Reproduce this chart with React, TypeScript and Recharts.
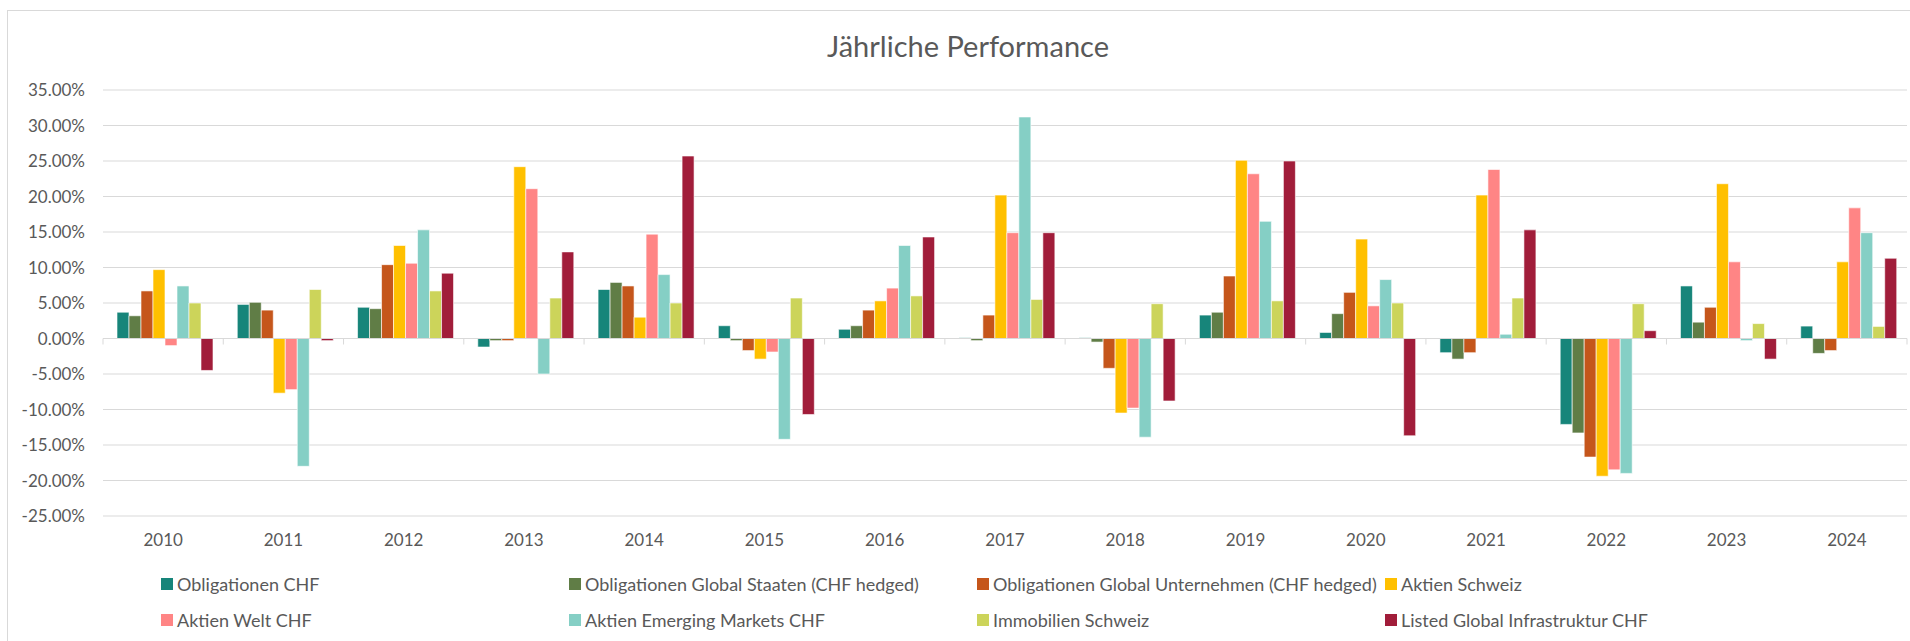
import { BarChart, Bar, XAxis, YAxis, CartesianGrid, ReferenceLine } from "recharts";

const years = ["2010", "2011", "2012", "2013", "2014", "2015", "2016", "2017", "2018", "2019", "2020", "2021", "2022", "2023", "2024"];

const obligationenChf = [3.7, 4.8, 4.4, -1.2, 6.9, 1.8, 1.3, 0.1, 0.1, 3.3, 0.85, -2.0, -12.1, 7.4, 1.75];
const obligationenStaaten = [3.2, 5.1, 4.2, -0.3, 7.9, -0.3, 1.8, -0.3, -0.5, 3.7, 3.5, -2.9, -13.3, 2.3, -2.1];
const obligationenUnternehmen = [6.7, 4.0, 10.4, -0.3, 7.4, -1.7, 4.0, 3.3, -4.2, 8.8, 6.5, -2.0, -16.7, 4.4, -1.7];
const aktienSchweiz = [9.7, -7.7, 13.1, 24.2, 3.0, -2.9, 5.3, 20.2, -10.5, 25.1, 14.0, 20.2, -19.4, 21.8, 10.8];
const aktienWelt = [-1.0, -7.2, 10.6, 21.1, 14.7, -1.9, 7.1, 14.9, -9.8, 23.2, 4.6, 23.8, -18.5, 10.8, 18.4];
const aktienEm = [7.4, -18.0, 15.3, -5.0, 9.0, -14.2, 13.1, 31.2, -13.9, 16.5, 8.3, 0.6, -19.0, -0.3, 14.9];
const immobilien = [5.0, 6.9, 6.7, 5.7, 5.0, 5.7, 6.0, 5.5, 4.9, 5.3, 5.0, 5.7, 4.9, 2.1, 1.7];
const infrastruktur = [-4.5, -0.3, 9.2, 12.2, 25.7, -10.7, 14.3, 14.9, -8.8, 25.0, -13.7, 15.3, 1.1, -2.9, 11.3];

const yTicks = [-25, -20, -15, -10, -5, 0, 5, 10, 15, 20, 25, 30, 35];

const series = [
  { key: "oblChf", name: "Obligationen CHF", color: "#17857a", values: obligationenChf },
  { key: "oblStaaten", name: "Obligationen Global Staaten (CHF hedged)", color: "#607d46", values: obligationenStaaten },
  { key: "oblUnt", name: "Obligationen Global Unternehmen (CHF hedged)", color: "#c5561b", values: obligationenUnternehmen },
  { key: "aktCh", name: "Aktien Schweiz", color: "#ffc000", values: aktienSchweiz },
  { key: "aktWelt", name: "Aktien Welt CHF", color: "#ff8585", values: aktienWelt },
  { key: "aktEm", name: "Aktien Emerging Markets CHF", color: "#85cfc5", values: aktienEm },
  { key: "immo", name: "Immobilien Schweiz", color: "#ccd45a", values: immobilien },
  { key: "infra", name: "Listed Global Infrastruktur CHF", color: "#a11d3a", values: infrastruktur },
];

const data = years.map((year, i) => {
  const row: Record<string, string | number> = { year };
  series.forEach((s) => {
    row[s.key] = s.values[i];
  });
  return row;
});

const TEXT = "#595959";
const GRID = "#d9d9d9";
const FONT = "Lato, sans-serif";

// zero line with Excel-style tick marks between the categories
const ZeroAxis = (props: any) => {
  const { x1, x2, y1 } = props;
  const step = (x2 - x1) / years.length;
  return (
    <g>
      <line x1={x1} x2={x2} y1={y1} y2={y1} stroke={GRID} strokeWidth={1} />
      {Array.from({ length: years.length + 1 }, (_, i) => (
        <line key={i} x1={x1 + i * step} x2={x1 + i * step} y1={y1} y2={y1 + 6} stroke={GRID} strokeWidth={1} />
      ))}
    </g>
  );
};

export default function App() {
  return (
    <div
      style={{
        position: "absolute",
        left: 0,
        top: 0,
        width: 1910,
        height: 641,
        overflow: "hidden",
        background: "#fff",
        fontFamily: FONT,
      }}
    >
      <div
        style={{
          position: "absolute",
          left: 7,
          top: 10,
          width: 1950,
          height: 700,
          border: `1px solid ${GRID}`,
        }}
      />
      <div style={{ position: "absolute", left: 0, top: 0 }}>
        <BarChart
          width={1910}
          height={641}
          data={data}
          margin={{ top: 90, right: 3, left: 0, bottom: 95 }}
          barCategoryGap={14}
          barGap={0}
        >
          <CartesianGrid vertical={false} stroke={GRID} strokeWidth={1} />
          <XAxis
            dataKey="year"
            axisLine={false}
            tickLine={false}
            tickSize={0}
            tickMargin={18}
            height={30}
            interval={0}
            tick={{ fill: TEXT, fontSize: 17, fontFamily: FONT }}
          />
          <YAxis
            width={103}
            domain={[-25, 35]}
            ticks={yTicks}
            interval={0}
            axisLine={false}
            tickLine={false}
            tickSize={0}
            tickMargin={18}
            tickFormatter={(v: number) => `${v.toFixed(2)}%`}
            tick={{ fill: TEXT, fontSize: 17, fontFamily: FONT }}
          />
          {series.map((s) => (
            <Bar
              key={s.key}
              dataKey={s.key}
              name={s.name}
              fill={s.color}
              stroke="#ffffff"
              strokeWidth={0.6}
              isAnimationActive={false}
            />
          ))}
          <ReferenceLine y={0} shape={ZeroAxis} />
        </BarChart>
      </div>
      <div
        style={{
          position: "absolute",
          left: 0,
          top: 31,
          width: 1936,
          textAlign: "center",
          fontSize: 29,
          lineHeight: "29px",
          color: TEXT,
        }}
      >
        Jährliche Performance
      </div>
      <div
        style={{
          position: "absolute",
          left: 161,
          top: 575,
          display: "grid",
          gridTemplateColumns: "repeat(4, 408px)",
          gridAutoRows: "36px",
        }}
      >
        {series.map((s) => (
          <div key={s.key} style={{ display: "flex", alignItems: "flex-start", height: 18 }}>
            <span
              style={{
                display: "inline-block",
                width: 12,
                height: 12,
                marginTop: 3,
                marginRight: 4,
                background: s.color,
              }}
            />
            <span style={{ fontSize: 18, lineHeight: "18px", color: TEXT, whiteSpace: "nowrap" }}>{s.name}</span>
          </div>
        ))}
      </div>
    </div>
  );
}
